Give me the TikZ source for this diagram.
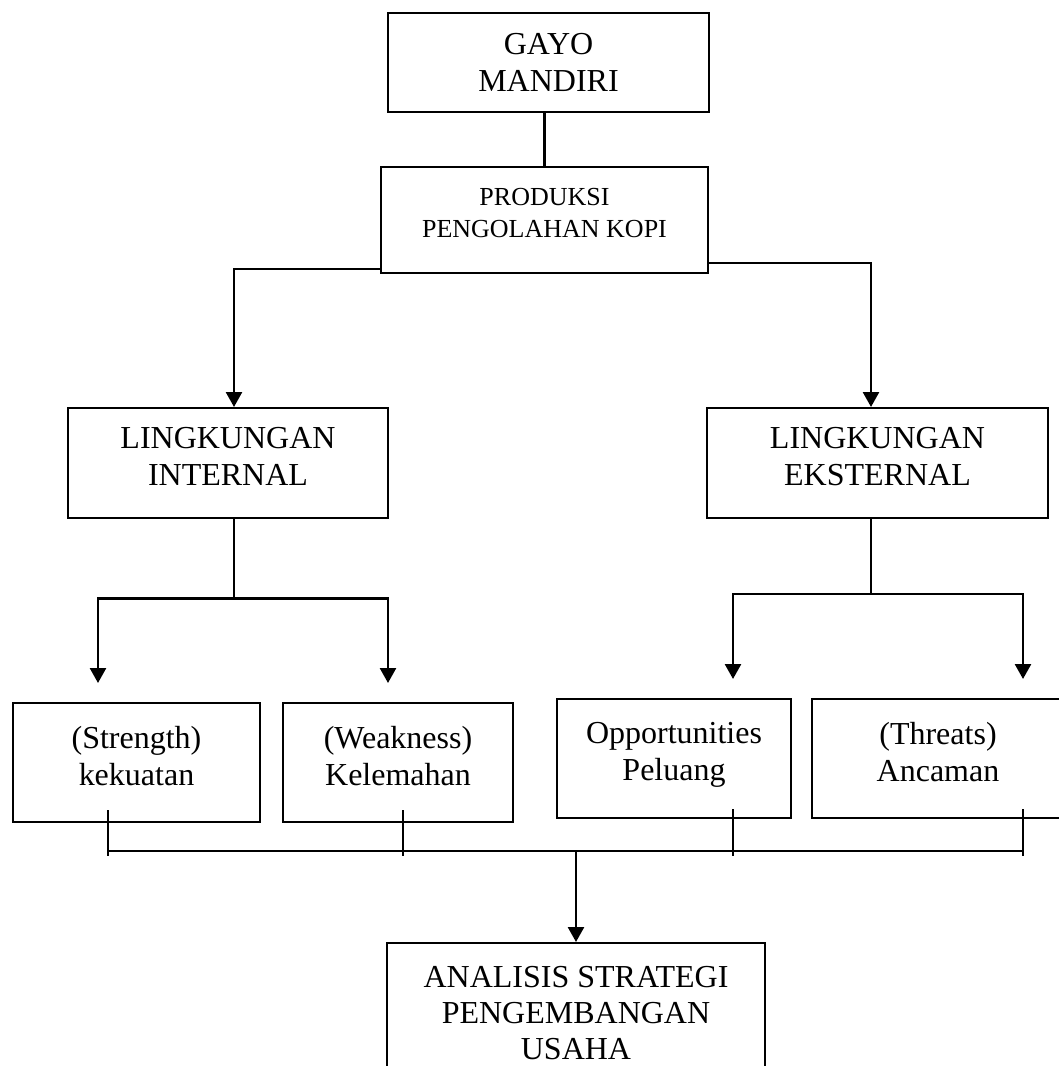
\documentclass[tikz,border=0pt]{standalone}
\usepackage{fontspec}
\setmainfont{Liberation Serif}
\usetikzlibrary{arrows.meta}

\begin{document}
\begin{tikzpicture}[
  x=0.5pt,
  y=-0.5pt,
  font=\fontsize{16}{18.5}\selectfont,
  >={Triangle[width=8pt,length=7.5pt]},
  box/.style={
    draw,
    line width=1pt,
    align=center,
    inner sep=0pt
  },
  lifted/.style={
    execute at end node={\rule[-7pt]{0pt}{7pt}}
  },
  smallbox/.style={
    box,
    lifted,
    font=\fontsize{13}{16}\selectfont
  },
  flow/.style={->,line width=1.3pt},
  link/.style={line width=1.3pt},
  bracket/.style={line width=0.9pt}
]
  \path[use as bounding box,fill=white] (0,0) rectangle (1059,1066);
  \clip (0,0) rectangle (1059,1066);

  % Top of the tree.
  \node[box,minimum width=160.5pt,minimum height=49.5pt] (gayo) at (548.5,62) {GAYO\\MANDIRI};
  \node[smallbox,minimum width=163.5pt,minimum height=53pt] (produksi) at (544.5,220) {PRODUKSI\\PENGOLAHAN KOPI};
  \draw[link] (produksi.north) -- (produksi.north |- gayo.south);

  % Internal and external environment.
  \node[box,lifted,minimum width=160pt,minimum height=55pt] (internal) at (228,463) {LINGKUNGAN\\INTERNAL};
  \node[box,lifted,minimum width=170.5pt,minimum height=55pt] (eksternal) at (877.5,463) {LINGKUNGAN\\EKSTERNAL};

  \draw[flow] ([yshift=2.5pt]produksi.south west) -| ([xshift=3pt]internal.north);
  \draw[flow] ([yshift=5.5pt]produksi.south east) -| ([xshift=-3.25pt]eksternal.north);

  % SWOT boxes.
  \node[box,lifted,minimum width=123.5pt,minimum height=59.5pt] (strength) at (136.5,762.5) {(Strength)\\kekuatan};
  \node[box,lifted,minimum width=115pt,minimum height=59.5pt] (weakness) at (398,762.5) {(Weakness)\\Kelemahan};
  \node[box,lifted,minimum width=117pt,minimum height=59.5pt] (opportunities) at (674,758.5) {Opportunities\\Peluang};
  \node[box,lifted,minimum width=126pt,minimum height=59.5pt] (threats) at (938,758.5) {(Threats)\\Ancaman};

  \coordinate (isplit) at ([xshift=3pt,yshift=-39.75pt]internal.south);
  \draw[link] ([xshift=3pt]internal.south) -- (isplit);
  \draw[flow] (isplit) -| ([xshift=-19.25pt,yshift=9.5pt]strength.north);
  \draw[flow] (isplit) -| ([xshift=-5pt,yshift=9.5pt]weakness.north);

  \coordinate (esplit) at ([xshift=-3.25pt,yshift=-37.5pt]eksternal.south);
  \draw[link] ([xshift=-3.25pt]eksternal.south) -- (esplit);
  \draw[flow] (esplit) -| ([xshift=29.5pt,yshift=9.5pt]opportunities.north);
  \draw[flow] (esplit) -| ([xshift=42.5pt,yshift=9.5pt]threats.north);

  % Bracket joining the four factors.
  \coordinate (bar) at (576,851);
  \coordinate (ts) at ([xshift=-14.25pt,yshift=6.5pt]strength.south);
  \coordinate (tw) at ([xshift=2.5pt,yshift=6.5pt]weakness.south);
  \coordinate (to) at ([xshift=29.5pt,yshift=5pt]opportunities.south);
  \coordinate (tt) at ([xshift=42.5pt,yshift=5pt]threats.south);
  \foreach \t in {ts,tw,to,tt}
    \draw[bracket] (\t) -- ([yshift=-2.5pt]\t |- bar);
  \draw[bracket] (ts |- bar) -- (tt |- bar);

  \node[box,font=\fontsize{16}{18}\selectfont,minimum width=189pt,minimum height=70pt] (analisis) at (576,1013) {ANALISIS STRATEGI\\PENGEMBANGAN\\USAHA};
  \draw[flow] (bar) -- (analisis.north);
\end{tikzpicture}
\end{document}
